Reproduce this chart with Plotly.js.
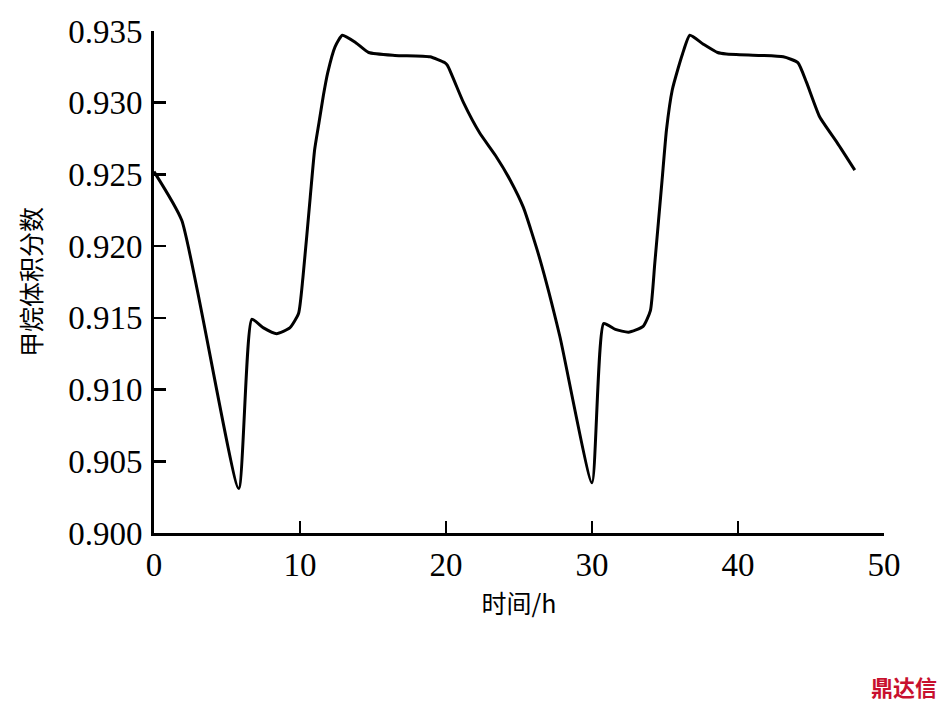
<!DOCTYPE html>
<html>
<head>
<meta charset="utf-8">
<script src="https://cdn.plot.ly/plotly-3.0.1.min.js"></script>
<style>html,body{margin:0;padding:0;background:#fff;}#chart{width:945px;height:709px;}</style>
</head>
<body>
<div id="chart"></div>
<script>
const hours = [0, 1.9, 5.8, 6.7, 7.5, 8.4, 9.3, 9.9, 10.2, 10.7, 11.0, 11.3, 11.6, 11.9, 12.4, 12.9, 13.8, 14.7, 16.5, 18.9, 19.9, 20.1, 21.2, 22.3, 23.4, 24.4, 25.3, 26.4, 27.8, 30.0, 30.8, 31.6, 32.5, 33.5, 34.0, 34.3, 34.8, 35.1, 35.5, 35.9, 36.2, 36.7, 37.6, 38.6, 39.2, 41.5, 43.1, 44.1, 44.7, 45.6, 46.8, 48.0];
const methaneFraction = [0.9252, 0.9218, 0.9031, 0.9149, 0.9143, 0.9139, 0.9143, 0.9153, 0.9178, 0.9234, 0.9267, 0.9286, 0.9305, 0.9321, 0.9339, 0.9347, 0.9342, 0.9335, 0.9333, 0.9332, 0.9328, 0.9326, 0.9300, 0.9279, 0.9263, 0.9246, 0.9227, 0.9192, 0.9137, 0.9035, 0.9146, 0.9142, 0.9140, 0.9144, 0.9155, 0.9188, 0.9246, 0.9281, 0.9309, 0.9324, 0.9334, 0.9347, 0.9341, 0.9335, 0.9334, 0.9333, 0.9332, 0.9328, 0.9314, 0.9290, 0.9272, 0.9253];
const xTicks = [0, 10, 20, 30, 40, 50];
const yTicks = [0.900, 0.905, 0.910, 0.915, 0.920, 0.925, 0.930, 0.935];
const yTickText = ["0.900", "0.905", "0.910", "0.915", "0.920", "0.925", "0.930", "0.935"];
const xTitle = "时间/h";
const yTitle = "甲烷体积分数";
const watermark = "鼎达信";

const numFont = {family: "Liberation Serif, Times New Roman, serif", size: 33, color: "#000"};
const cjkFont = {family: "Noto Sans CJK SC, sans-serif", size: 25, color: "#000"};

Plotly.newPlot("chart", [{
  x: hours, y: methaneFraction, type: "scatter", mode: "lines",
  line: {color: "#000", width: 3, shape: "spline", smoothing: 0.5},
  hoverinfo: "skip"
}], {
  width: 945, height: 709,
  margin: {l: 154, r: 61, t: 31, b: 176},
  paper_bgcolor: "#fff", plot_bgcolor: "#fff",
  showlegend: false,
  xaxis: {
    range: [0, 50], tickvals: xTicks, ticks: "inside", ticklen: 12, tickwidth: 2.5, tickcolor: "#000",
    showline: true, linewidth: 3, linecolor: "#000", showgrid: false, zeroline: false,
    tickfont: numFont, ticklabelstandoff: 0,
    title: {text: xTitle, font: cjkFont, standoff: 14}
  },
  yaxis: {
    range: [0.900, 0.935], tickvals: yTicks, ticktext: yTickText, ticks: "inside", ticklen: 12, tickwidth: 2.5, tickcolor: "#000",
    showline: true, linewidth: 3, linecolor: "#000", showgrid: false, zeroline: false,
    tickfont: numFont, ticklabelstandoff: 2,
    title: {text: yTitle, font: cjkFont, standoff: 20}
  },
  annotations: [{
    text: "<b>" + watermark + "</b>", xref: "paper", yref: "paper",
    x: 1.075, y: -0.305, xanchor: "right", yanchor: "middle", showarrow: false,
    font: {family: "Noto Sans CJK SC, sans-serif", size: 22, color: "#c8102e"}
  }]
}, {displayModeBar: false, staticPlot: true});
</script>
</body>
</html>
